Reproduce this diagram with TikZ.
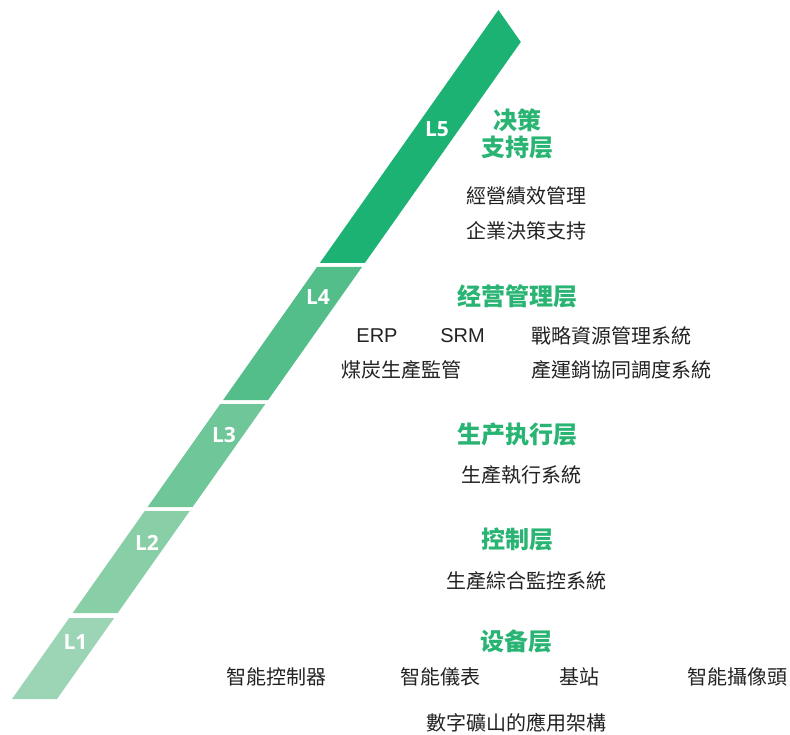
\documentclass[tikz,border=0pt]{standalone}
\usepackage{fontspec}
\usepackage{xcolor}
\setmainfont{Liberation Sans}
\newfontfamily\cjktc{Noto Sans CJK TC}
\newfontfamily\cjksc{Noto Sans CJK SC}
\newfontfamily\levelfont{Open Sans}
\definecolor{minefive}{RGB}{27, 178, 115}
\definecolor{minefour}{RGB}{84, 190, 138}
\definecolor{minethree}{RGB}{110, 198, 153}
\definecolor{minetwo}{RGB}{136, 206, 167}
\definecolor{mineone}{RGB}{156, 213, 182}
\definecolor{minehead}{RGB}{41, 180, 115}
\definecolor{minetext}{RGB}{34, 34, 34}
\usetikzlibrary{positioning,calc}

\begin{document}
\begin{tikzpicture}[x=1pt, y=-1pt]
    \tikzstyle{level} = [text=white, inner sep=0pt, font=\levelfont\bfseries\fontsize{21}{24}\selectfont]
    \tikzstyle{layer} = [text=minehead, inner sep=0pt, align=center,
                         font=\cjksc\bfseries\fontsize{24}{27}\selectfont]
    \tikzstyle{item} = [text=minetext, inner sep=0pt, font=\cjktc\fontsize{20}{24}\selectfont]
    \tikzstyle{latin} = [text=minetext, inner sep=0pt, font=\fontsize{20}{24}\selectfont]

    \useasboundingbox (0,0) rectangle (790,735);

    % Level bands
    \fill[mineone]   (12,699)   -- (57,699)    -- (114.2,618) -- (69.2,618)  -- cycle;
    \fill[minetwo]   (72.7,613) -- (117.7,613) -- (189.7,511) -- (144.7,511) -- cycle;
    \fill[minethree] (147.6,507) -- (192.6,507) -- (265.3,404) -- (220.3,404) -- cycle;
    \fill[minefour]  (223.1,400) -- (268.1,400) -- (362,267)   -- (317,267)   -- cycle;
    \fill[minefive]  (319.8,263) -- (364.8,263) -- (520.8,42)  -- (498.4,10)  -- cycle;

    % Level labels
    \node[level] (l1) at (75.5,642.5) {L1};
    \node[level] (l2) at (147,542.5) {L2};
    \node[level] (l3) at (224,434.5) {L3};
    \node[level] (l4) at (318,297) {L4};
    \node[level] (l5) at (437,129.5) {L5};

    % L5
    \node[layer] (h5) at (517,133.5) {决策\\支持层};
    \node[item] (a5) at (526,196) {經營績效管理};
    \node[item] (b5) at (526,231) {企業決策支持};

    % L4
    \node[layer] (h4) at (517.5,296) {经营管理层};
    \node[latin] (erp) at (377,336) {ERP};
    \node[latin] (srm) at (462.5,336) {SRM};
    \node[item] (srp) at (611.5,336) {戰略資源管理系統};
    \node[item] (coal) at (401,370) {煤炭生產監管};
    \node[item] (sched) at (621.5,370) {產運銷協同調度系統};

    % L3
    \node[layer] (h3) at (517.5,434) {生产执行层};
    \node[item] (mes) at (521,475) {生產執行系統};

    % L2
    \node[layer] (h2) at (517.5,539) {控制层};
    \node[item] (scada) at (526.5,581) {生產綜合監控系統};

    % L1
    \node[layer] (h1) at (516,641) {设备层};
    \node[item] (ctrl) at (276,677) {智能控制器};
    \node[item] (meter) at (440,677) {智能儀表};
    \node[item] (base) at (579,677) {基站};
    \node[item] (cam) at (737.5,677) {智能攝像頭};

    % Caption
    \node[item] (title) at (516,723) {數字礦山的應用架構};
\end{tikzpicture}
\end{document}
